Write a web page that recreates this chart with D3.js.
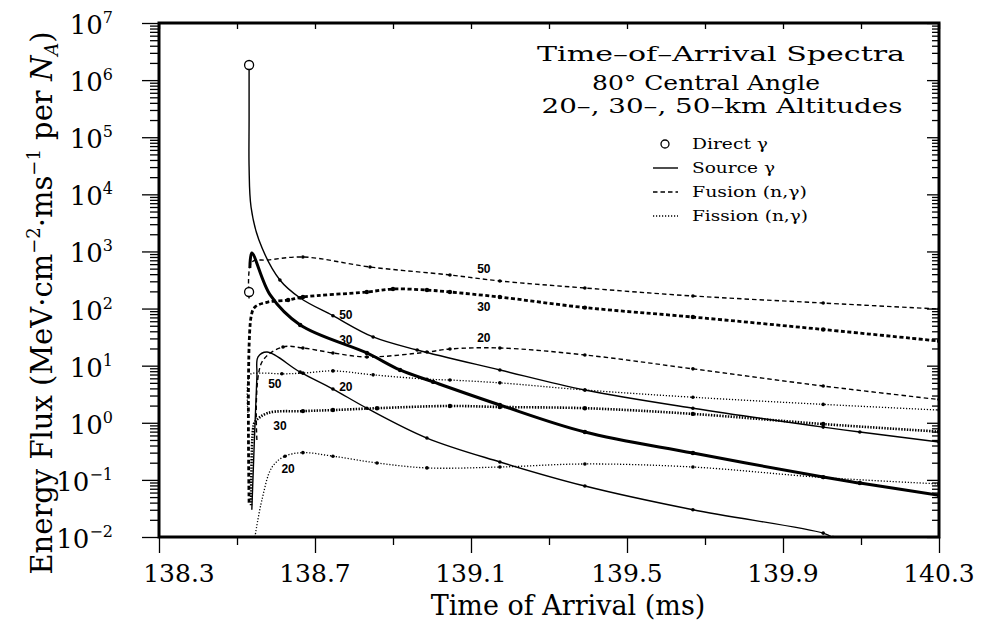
<!DOCTYPE html>
<html><head><meta charset="utf-8">
<script src="https://cdn.jsdelivr.net/npm/d3@7"></script>
<style>
body{margin:0;background:#fff}
svg{display:block}
text{font-family:"DejaVu Serif",serif;fill:#000}
</style>
</head><body><svg id="c" width="986" height="632"></svg>
<script>
// ---------------- data ----------------
const xMajorTicks = [138.3, 138.7, 139.1, 139.5, 139.9, 140.3];
const xMinorTicks = [138.5, 138.9, 139.3, 139.7, 140.1];
const yExponents = [-2, -1, 0, 1, 2, 3, 4, 5, 6, 7];

const titleLines = ["Time\u2013of\u2013Arrival Spectra", "80\u00B0 Central Angle", "20\u2013, 30\u2013, 50\u2013km Altitudes"];
const legendLabels = ["Direct \u03B3", "Source \u03B3", "Fusion (n,\u03B3)", "Fission (n,\u03B3)"];

// Direct gamma points [time ms, flux]
const directGamma = [[138.531, 1.84e6], [138.531, 195]];

// Source gamma (solid)
const source50 = [[138.531, 1.84e6], [138.531, 2.0e5], [138.531, 3.0e4], [138.536, 6.0e3], [138.556, 1.6e3],
  [138.610, 316], [138.662, 153], [138.746, 75], [138.849, 31.8], [138.962, 18.8], [139.174, 8.4],
  [139.392, 3.75], [139.669, 1.8], [140.003, 0.84], [140.097, 0.69], [140.3, 0.46]];
const source30 = [[138.533, 513], [138.538, 940], [138.585, 173], [138.662, 51.5], [138.833, 16.7],
  [138.918, 8.4], [139.003, 5.2], [139.174, 2.05], [139.392, 0.69], [139.669, 0.295], [140.003, 0.112],
  [140.097, 0.088], [140.3, 0.054]];
const source20 = [[138.538, 0.03], [138.551, 6.3], [138.554, 14.2], [138.577, 17.3], [138.662, 7.7],
  [138.746, 3.9], [138.833, 1.8], [138.987, 0.54], [139.174, 0.206], [139.392, 0.078], [139.669, 0.030],
  [140.003, 0.0117], [140.028, 0.0098]];

// Fusion (n,gamma) (dashed)
const fusion50 = [[138.531, 150], [138.538, 650], [138.579, 708], [138.669, 800], [138.841, 535],
  [139.046, 387], [139.174, 304], [139.392, 229], [139.669, 166], [140.003, 125], [140.3, 98]];
const fusion30 = [[138.531, 0.04], [138.536, 71], [138.546, 106], [138.579, 130], [138.631, 141],
  [138.669, 159], [138.833, 195], [138.900, 220], [138.987, 211], [139.046, 195], [139.174, 159],
  [139.392, 104], [139.669, 71], [140.003, 43], [140.3, 27]];
const fusion20 = [[138.551, 0.5], [138.564, 11.6], [138.618, 21.2], [138.669, 20.4], [138.746, 16.7],
  [138.833, 14.2], [138.987, 17.3], [139.046, 19.6], [139.174, 20.4], [139.392, 15.4], [139.669, 8.8],
  [140.003, 4.4], [140.3, 2.55]];

// Fission (n,gamma) (dotted)
const fission50 = [[138.528, 1.5], [138.533, 6.9], [138.559, 7.4], [138.615, 7.2], [138.669, 7.4],
  [138.746, 8.1], [138.849, 6.9], [138.987, 5.8], [139.046, 5.6], [139.174, 5.0], [139.392, 3.75],
  [139.669, 2.8], [140.003, 2.1], [140.3, 1.67]];
const fission30 = [[138.536, 0.036], [138.541, 0.75], [138.546, 1.03], [138.579, 1.48], [138.669, 1.6],
  [138.746, 1.67], [138.859, 1.8], [139.046, 1.97], [139.174, 1.89], [139.392, 1.8], [139.669, 1.43],
  [140.003, 0.95], [140.3, 0.70]];
const fission20 = [[138.546, 0.01], [138.564, 0.045], [138.590, 0.168], [138.623, 0.26], [138.669, 0.30],
  [138.746, 0.26], [138.859, 0.198], [138.987, 0.162], [139.174, 0.168], [139.392, 0.19], [139.669, 0.168],
  [140.003, 0.11], [140.3, 0.085]];

// altitude labels on the curves [time, flux, text]
const curveLabels = [[138.779, 77, "50"], [138.779, 28, "30"], [138.779, 4.2, "20"],
  [139.133, 493, "50"], [139.133, 106, "30"], [139.133, 30.5, "20"],
  [138.597, 4.8, "50"], [138.610, 0.88, "30"], [138.631, 0.155, "20"]];

// ---------------- chart ----------------
const svg = d3.select("#c");
const L = 159, R = 939, T = 23, B = 537;
const x = d3.scaleLinear().domain([138.3, 140.3]).range([L, R]);
const y = d3.scaleLog().domain([1e-2, 1e7]).range([B, T]);

svg.append("rect").attr("width", 986).attr("height", 632).attr("fill", "#fff");

const yMinor = [];
for (let e = -2; e < 7; e++) for (let k = 2; k <= 9; k++) yMinor.push(k * Math.pow(10, e));
const yMajor = yExponents.map(e => Math.pow(10, e));

function tickStyle(g) {
  g.select(".domain").remove();
  g.selectAll("line").attr("stroke", "#000").attr("stroke-width", 1.3);
  g.selectAll("text").remove();
}
// left (outward)
svg.append("g").attr("transform", `translate(${L},0)`)
  .call(d3.axisLeft(y).tickValues(yMajor).tickSize(17).tickFormat("")).call(tickStyle);
svg.append("g").attr("transform", `translate(${L},0)`)
  .call(d3.axisLeft(y).tickValues(yMinor).tickSize(9).tickFormat("")).call(tickStyle);
// right (inward)
svg.append("g").attr("transform", `translate(${R},0)`)
  .call(d3.axisLeft(y).tickValues(yMajor).tickSize(12).tickFormat("")).call(tickStyle);
svg.append("g").attr("transform", `translate(${R},0)`)
  .call(d3.axisLeft(y).tickValues(yMinor).tickSize(7).tickFormat("")).call(tickStyle);
// top (inward)
svg.append("g").attr("transform", `translate(0,${T})`)
  .call(d3.axisBottom(x).tickValues(xMajorTicks.concat(xMinorTicks)).tickSize(6).tickFormat("")).call(tickStyle);
// bottom (outward)
svg.append("g").attr("transform", `translate(0,${B})`)
  .call(d3.axisBottom(x).tickValues(xMajorTicks).tickSize(16).tickFormat("")).call(tickStyle);
svg.append("g").attr("transform", `translate(0,${B})`)
  .call(d3.axisBottom(x).tickValues(xMinorTicks).tickSize(8).tickFormat("")).call(tickStyle);

// x tick labels
svg.append("g").selectAll("text").data(xMajorTicks).join("text")
  .attr("x", d => x(d)).attr("dx", (d, i) => i === 0 ? 20 : 0).attr("y", 582)
  .attr("text-anchor", "middle").attr("font-size", 25)
  .text(d => d3.format(".1f")(d));

// y tick labels
const yl = svg.append("g").selectAll("text").data(yExponents).join("text")
  .attr("x", 113).attr("y", d => y(Math.pow(10, d)) + 11)
  .attr("text-anchor", "end").attr("font-size", 26);
yl.append("tspan").text("10");
yl.append("tspan").attr("dy", -11).attr("font-size", 16).text(d => d < 0 ? "\u2212" + (-d) : d);

// axis titles
svg.append("text").attr("x", 568).attr("y", 615).attr("text-anchor", "middle").attr("font-size", 27)
  .text("Time of Arrival (ms)");
const yt = svg.append("text").attr("transform", "translate(52,303) rotate(-90)")
  .attr("text-anchor", "middle").attr("font-size", 29);
yt.append("tspan").text("Energy Flux (MeV\u00B7cm");
yt.append("tspan").attr("font-size", 18).attr("dy", -12).text("\u22122");
yt.append("tspan").attr("dy", 12).text("\u00B7ms");
yt.append("tspan").attr("font-size", 18).attr("dy", -12).text("\u22121");
yt.append("tspan").attr("dy", 12).text(" per ");
yt.append("tspan").attr("font-style", "italic").text("N");
yt.append("tspan").attr("font-size", 18).attr("font-style", "italic").attr("dy", 6).text("A");
yt.append("tspan").attr("dy", -6).text(")");

// title
const titleY = [61, 90, 113], titleX = [721, 706, 722], titleW = [368, 228, 361];
svg.append("g").selectAll("text").data(titleLines).join("text")
  .attr("x", (d, i) => titleX[i]).attr("y", (d, i) => titleY[i])
  .attr("text-anchor", "middle").attr("font-size", 21)
  .attr("textLength", (d, i) => titleW[i]).attr("lengthAdjust", "spacingAndGlyphs")
  .text(d => d);

// clip
svg.append("clipPath").attr("id", "clip").append("rect")
  .attr("x", L).attr("y", T).attr("width", R - L).attr("height", B - T);
const plot = svg.append("g").attr("clip-path", "url(#clip)");

const line = d3.line().x(d => x(d[0])).y(d => y(d[1])).curve(d3.curveCatmullRom.alpha(0.5));

const styles = {
  solid: {w: 1.4, dash: null, r: 1.8},
  solidThick: {w: 3, dash: null, r: 2.2},
  dashed: {w: 1.4, dash: "4.5,3", r: 1.8},
  dashedThick: {w: 2.8, dash: "4,2.5", r: 2.2},
  dotted: {w: 1.3, dash: "1.2,1.8", r: 1.8},
  dottedThick: {w: 2.6, dash: "1.4,1.4", r: 2.2}
};
const series = [
  [source50, "solid"], [source30, "solidThick"], [source20, "solid"],
  [fusion50, "dashed"], [fusion30, "dashedThick"], [fusion20, "dashed"],
  [fission50, "dotted"], [fission30, "dottedThick"], [fission20, "dotted"]
];
series.forEach(([data, st]) => {
  const s = styles[st];
  plot.append("path").datum(data).attr("d", line)
    .attr("fill", "none").attr("stroke", "#000").attr("stroke-width", s.w)
    .attr("stroke-dasharray", s.dash);
  plot.append("g").selectAll("circle").data(data.filter(d => d[0] >= 138.6)).join("circle")
    .attr("cx", d => x(d[0])).attr("cy", d => y(d[1])).attr("r", s.r).attr("fill", "#000");
});

// direct gamma circles
plot.append("g").selectAll("circle").data(directGamma).join("circle")
  .attr("cx", d => x(d[0])).attr("cy", d => y(d[1])).attr("r", 4.5)
  .attr("fill", "#fff").attr("stroke", "#000").attr("stroke-width", 1.3);

// curve labels
svg.append("g").selectAll("text").data(curveLabels).join("text")
  .attr("x", d => x(d[0])).attr("y", d => y(d[1]))
  .attr("text-anchor", "middle").attr("dominant-baseline", "central")
  .style("font-family", "'Liberation Sans',Arial,sans-serif").attr("font-weight", "bold")
  .attr("font-size", 12).text(d => d[2]);

// legend
const lg = svg.append("g");
const legY = [144, 168, 192, 216];
const legW = [76, 83, 115, 116];
lg.append("circle").attr("cx", 665).attr("cy", legY[0]).attr("r", 4)
  .attr("fill", "#fff").attr("stroke", "#000").attr("stroke-width", 1.3);
[["solid", 1], ["dashed", 2], ["dotted", 3]].forEach(([st, i]) => {
  lg.append("line").attr("x1", 653).attr("x2", 678).attr("y1", legY[i]).attr("y2", legY[i])
    .attr("stroke", "#000").attr("stroke-width", 1.4).attr("stroke-dasharray", styles[st].dash);
});
lg.selectAll("text").data(legendLabels).join("text")
  .attr("x", 692).attr("y", (d, i) => legY[i] + 5).attr("font-size", 15)
  .attr("textLength", (d, i) => legW[i]).attr("lengthAdjust", "spacingAndGlyphs")
  .text(d => d);

// frame
svg.append("rect").attr("x", L).attr("y", T).attr("width", R - L).attr("height", B - T)
  .attr("fill", "none").attr("stroke", "#000").attr("stroke-width", 3);
</script>
</body></html>
